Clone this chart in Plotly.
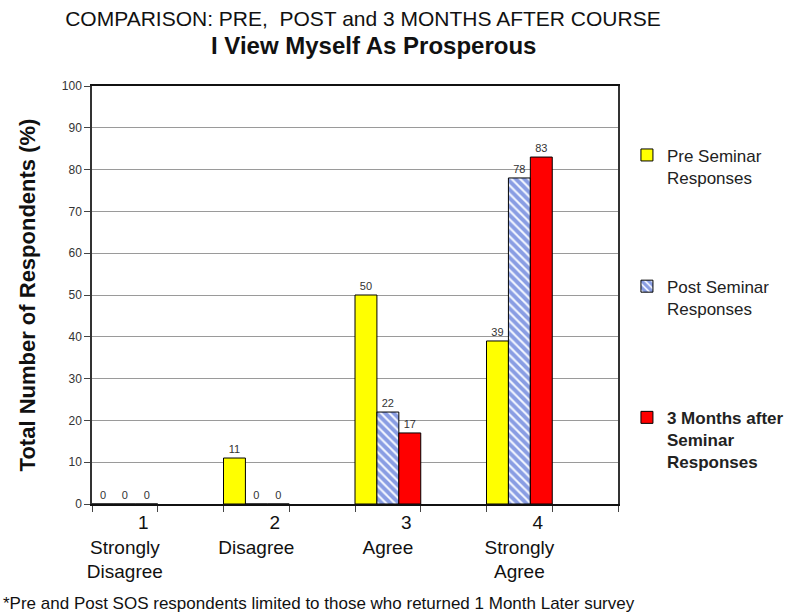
import plotly.graph_objects as go

# ---- data ----
categories = ["1", "2", "3", "4"]
category_names = ["Strongly<br>Disagree", "Disagree", "Agree", "Strongly<br>Agree"]
pre_seminar = [0, 11, 50, 39]
post_seminar = [0, 0, 22, 78]
three_months = [0, 0, 17, 83]
series_names = ["Pre Seminar<br>Responses", "Post Seminar<br>Responses",
                "<b>3 Months after<br>Seminar<br>Responses</b>"]
y_ticks = list(range(0, 101, 10))

# category group positions (every other slot is an empty spacer slot)
x_pos = [2 * i for i in range(len(categories))]
NB = "\u00a0"
tick_text = [NB * 7 + c + "<br>" + n for c, n in zip(categories, category_names)]

fig = go.Figure()
bar_w = 1 / 3
styles = [
    dict(color="#FFFF00"),
    dict(color="#8FA6E8", pattern=dict(shape="\\", fgcolor="#1E44C8", bgcolor="#F4F7FF",
                                       size=6, solidity=0.65)),
    dict(color="#FF0000"),
]
for i, (name, vals) in enumerate(zip(series_names, [pre_seminar, post_seminar, three_months])):
    m = dict(styles[i])
    m["line"] = dict(color="#000000", width=1)
    fig.add_trace(go.Bar(
        x=x_pos, y=vals, name=name, width=bar_w, offset=-0.5 + i * bar_w,
        marker=m, text=vals, texttemplate="%{y}", textposition="outside",
        textfont=dict(size=11, color="#333333"), cliponaxis=False,
        legendgroup=f"g{i}",
    ))

fig.update_layout(
    width=803, height=614,
    margin=dict(l=92, r=185, t=86, b=110, autoexpand=False),
    barmode="overlay",
    plot_bgcolor="white", paper_bgcolor="white",
    font=dict(family="Liberation Sans, Arial, sans-serif", color="#111111"),
    title=dict(
        text="COMPARISON: PRE," + NB + " POST and 3 MONTHS AFTER COURSE",
        font=dict(size=21, color="#111111"),
        x=0.452, xanchor="center", xref="container",
        y=1 - 19 / 614, yanchor="middle", yref="container",
    ),
    showlegend=True,
    legend=dict(
        x=1.017, xanchor="left", y=0.877, yanchor="top",
        font=dict(size=17, color="#222222"),
        tracegroupgap=84, valign="top", itemwidth=30,
        bgcolor="rgba(0,0,0,0)",
    ),
    annotations=[
        dict(text="<b>I View Myself As Prosperous</b>",
             xref="paper", yref="paper", x=(373 - 92) / 526, y=(504 - 46) / 418,
             xanchor="center", yanchor="middle", showarrow=False,
             font=dict(size=24, color="#111111")),
        dict(text="*Pre and Post SOS respondents limited to those who returned 1 Month Later survey",
             xref="paper", yref="paper", x=-91 / 526, y=-0.237, xanchor="left", yanchor="middle",
             showarrow=False, font=dict(size=17, color="#111111")),
    ],
)

fig.update_yaxes(
    range=[0, 100], tickvals=y_ticks, ticks="outside", ticklen=6, tickcolor="#444444",
    tickfont=dict(size=12, color="#333333"),
    showgrid=True, gridcolor="#9a9a9a", gridwidth=1,
    showline=True, linecolor="#333333", linewidth=1.5, mirror=True,
    zeroline=False,
    title=dict(text="<b>Total Number of Respondents (%)</b>", font=dict(size=22, color="#111111"),
               standoff=20),
)
fig.update_xaxes(
    range=[-0.5, 7.5], tickvals=x_pos, ticktext=tick_text, ticks="",
    tickfont=dict(size=19, color="#111111"),
    minor=dict(tick0=-0.5, dtick=1, ticks="outside", ticklen=6, tickcolor="#444444", showgrid=False),
    showgrid=False, showline=True, linecolor="#111111", linewidth=2, mirror=True,
    zeroline=False,
)

fig.write_html("out.html", config={"displayModeBar": False},
               post_script="document.body.style.margin='0px';")
